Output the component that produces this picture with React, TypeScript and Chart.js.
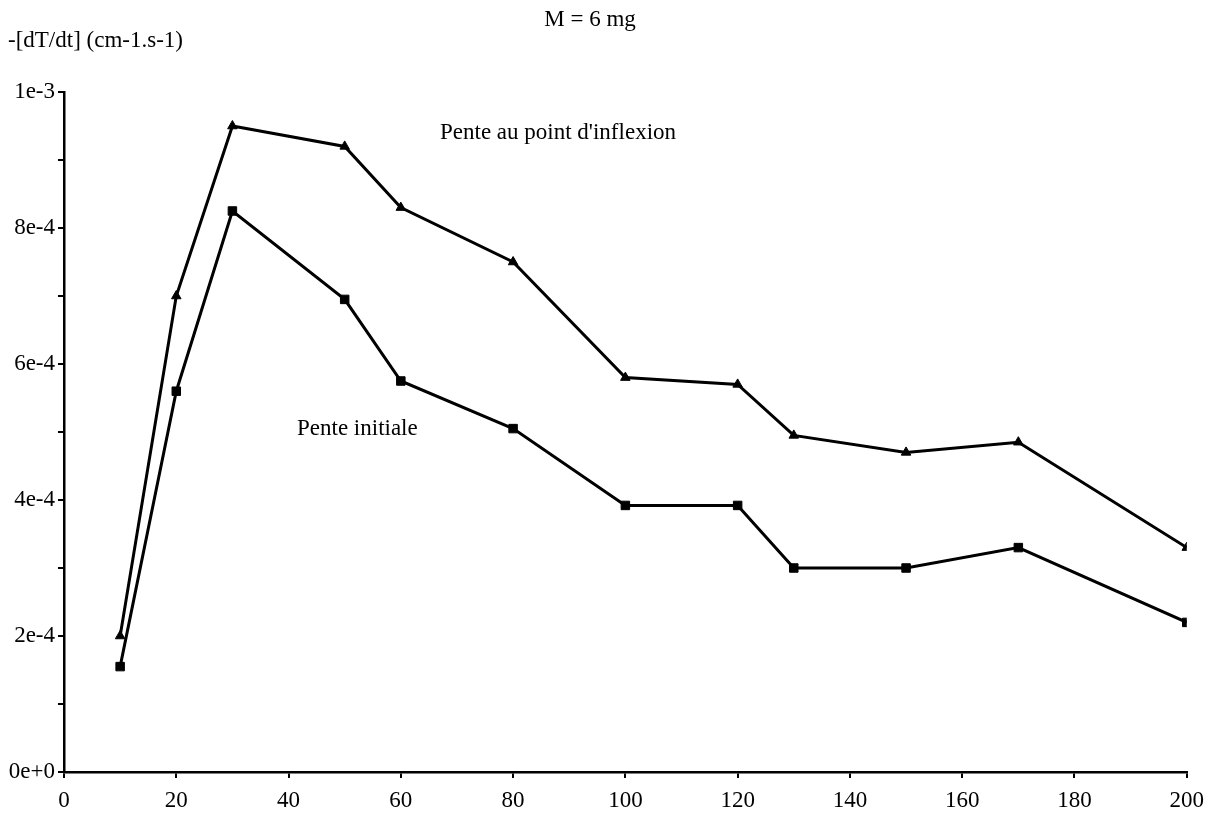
import React, { useEffect, useRef } from "react";
import { Chart, registerables } from "chart.js";

Chart.register(...registerables);

const xValues = [10, 20, 30, 50, 60, 80, 100, 120, 130, 150, 170, 200];
const penteInflexion = [2.0e-4, 7.0e-4, 9.5e-4, 9.2e-4, 8.3e-4, 7.5e-4, 5.8e-4, 5.7e-4, 4.95e-4, 4.7e-4, 4.85e-4, 3.3e-4];
const penteInitiale = [1.55e-4, 5.6e-4, 8.25e-4, 6.95e-4, 5.75e-4, 5.05e-4, 3.92e-4, 3.92e-4, 3.0e-4, 3.0e-4, 3.3e-4, 2.2e-4];

const titleText = "M = 6 mg";
const yAxisTitle = "-[dT/dt] (cm-1.s-1)";
const labelInflexion = "Pente au point d'inflexion";
const labelInitiale = "Pente initiale";

const FONT = "'Liberation Serif', 'DejaVu Serif', serif";

export default function App() {
  const ref = useRef<HTMLCanvasElement | null>(null);

  useEffect(() => {
    if (!ref.current) return;
    const textPlugin = {
      id: "texts",
      afterDraw(chart: any) {
        const ctx = chart.ctx;
        ctx.save();
        ctx.fillStyle = "#000";
        ctx.font = `23px ${FONT}`;
        ctx.textBaseline = "middle";
        ctx.textAlign = "center";
        ctx.fillText(titleText, 590, 20);
        ctx.textAlign = "left";
        ctx.fillText(yAxisTitle, 8, 41);
        ctx.fillText(labelInflexion, 440, 133);
        ctx.fillText(labelInitiale, 297, 429);
        ctx.restore();
      },
    };

    const chart = new Chart(ref.current, {
      type: "line",
      data: {
        datasets: [
          {
            label: labelInflexion,
            data: xValues.map((x, i) => ({ x, y: penteInflexion[i] })),
            borderColor: "#000",
            backgroundColor: "#000",
            borderWidth: 3,
            pointStyle: "triangle",
            pointRadius: 5.5,
            pointBorderWidth: 1,
            tension: 0,
          },
          {
            label: labelInitiale,
            data: xValues.map((x, i) => ({ x, y: penteInitiale[i] })),
            borderColor: "#000",
            backgroundColor: "#000",
            borderWidth: 3,
            pointStyle: "rect",
            pointRadius: 6,
            pointBorderWidth: 1,
            tension: 0,
          },
        ],
      },
      options: {
        animation: false,
        responsive: false,
        layout: { padding: { top: 92, right: 25, left: 0, bottom: 0 } },
        plugins: {
          legend: { display: false },
          title: { display: false },
          tooltip: { enabled: false },
        },
        scales: {
          x: {
            type: "linear",
            min: 0,
            max: 200,
            afterFit: (s: any) => {
              s.height = 49;
            },
            border: { display: true, color: "#000", width: 2.5 },
            grid: {
              display: true,
              drawOnChartArea: false,
              drawTicks: true,
              tickLength: 6,
              color: "#000",
              lineWidth: 2,
            },
            ticks: {
              stepSize: 20,
              color: "#000",
              font: { family: FONT, size: 23 },
              padding: 9,
              maxRotation: 0,
              autoSkip: false,
            },
          },
          y: {
            type: "linear",
            min: 0,
            max: 1e-3,
            afterFit: (s: any) => {
              s.width = 64;
            },
            border: { display: true, color: "#000", width: 2.5 },
            grid: {
              display: true,
              drawOnChartArea: false,
              drawTicks: true,
              tickLength: 6,
              color: "#000",
              lineWidth: 2,
            },
            ticks: {
              stepSize: 1e-4,
              color: "#000",
              font: { family: FONT, size: 23 },
              padding: 3,
              autoSkip: false,
              callback: (v: any) => {
                const n = Math.round(Number(v) * 1e4);
                if (n % 2 !== 0) return "";
                return (n / 1e4).toExponential(0);
              },
            },
          },
        },
      },
      plugins: [textPlugin],
    });
    return () => chart.destroy();
  }, []);

  return (
    <div style={{ position: "absolute", left: 0, top: 0, width: 1213, height: 821, background: "#fff" }}>
      <canvas ref={ref} width={1213} height={821} />
    </div>
  );
}
